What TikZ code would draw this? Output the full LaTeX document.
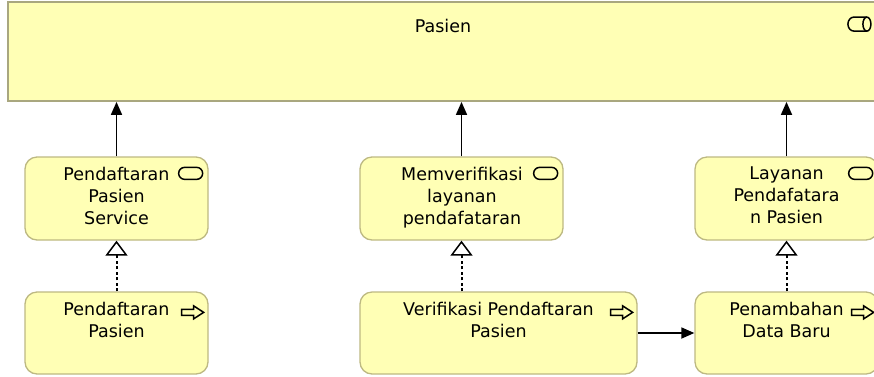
\documentclass[tikz,border=0pt]{standalone}
\usepackage{fontspec}
\setmainfont{DejaVu Sans}
\usetikzlibrary{arrows.meta}
\definecolor{bizfill}{HTML}{FFFFB5}
\definecolor{bizline}{HTML}{BDB982}
\definecolor{roleline}{HTML}{A9A77F}
\begin{document}
\begin{tikzpicture}[x=1pt,y=-1pt,
  elem/.style={draw=bizline, fill=bizfill, line width=1.3pt, rounded corners=12pt, inner sep=0pt},
  rolebox/.style={draw=roleline, fill=bizfill, line width=1.8pt, inner sep=0pt},
  txt/.style={anchor=north, align=center, inner sep=0pt, font=\fontsize{17.5}{22}\selectfont},
  serving/.style={line width=1.7pt, -{Triangle[length=13pt,width=11pt]}},
  realize/.style={line width=2pt, dash pattern=on 3pt off 2.5pt,
    -{Triangle[open,length=15pt,width=22pt,fill=white,line width=1.5pt,sep=0pt]}},
  trigger/.style={line width=1.7pt, -{Triangle[length=13pt,width=11pt]}},
  icon/.style={line width=1.5pt, draw=black},
  svcicon/.pic={\draw[icon, rounded corners=6pt] (-24,0) rectangle (0,12);},
  procicon/.pic={\draw[icon, line join=miter] (-22,-3) -- (-10,-3) -- (-10,-6.5) -- (0,0)
      -- (-10,6.5) -- (-10,3) -- (-22,3) -- cycle;},
  roleicon/.pic={\draw[icon] (-4,0) -- (-17,0) arc[start angle=270, end angle=90, x radius=6, y radius=7] -- (-4,14);
      \draw[icon] (-4,7) ellipse[x radius=4, y radius=7];},
]
\path[use as bounding box] (0,0) rectangle (874,376);

% business role across the top
\node[rolebox, minimum width=870pt, minimum height=99pt] (role) at (443,51.5) {};
\node[txt] (roleT) at (443,19) {Pasien};
\pic at ([xshift=-8pt,yshift=-16pt]role.north east) {roleicon};

% business services
\node[elem, minimum width=183pt, minimum height=83pt] (svcA) at (116.5,198.5) {};
\node[elem, minimum width=203pt, minimum height=83pt] (svcB) at (461.5,198.5) {};
\node[elem, minimum width=183pt, minimum height=83pt] (svcC) at (786.5,198.5) {};
\node[txt] (svcAT) at (116.5,167) {Pendaftaran\\Pasien\\Service};
\node[txt] (svcBT) at (462,167) {Memverifikasi\\layanan\\pendafataran};
\node[txt] (svcCT) at (786.5,167) {Layanan\\Pendafatara\\n Pasien};
\pic at ([xshift=-6pt,yshift=-11pt]svcA.north east) {svcicon};
\pic at ([xshift=-6pt,yshift=-11pt]svcB.north east) {svcicon};
\pic at ([xshift=-6pt,yshift=-11pt]svcC.north east) {svcicon};

% business processes
\node[elem, minimum width=183pt, minimum height=82pt] (procA) at (116.5,333) {};
\node[elem, minimum width=277pt, minimum height=82pt] (procB) at (498.5,333) {};
\node[elem, minimum width=183pt, minimum height=82pt] (procC) at (786.5,333) {};
\node[txt] (procAT) at (116.5,302) {Pendaftaran\\Pasien};
\node[txt] (procBT) at (498.5,302) {Verifikasi Pendaftaran\\Pasien};
\node[txt] (procCT) at (786.5,302) {Penambahan\\Data Baru};
\pic at ([xshift=-5pt,yshift=-21pt]procA.north east) {procicon};
\pic at ([xshift=-5pt,yshift=-21pt]procB.north east) {procicon};
\pic at ([xshift=-5pt,yshift=-21pt]procC.north east) {procicon};

% serving relations
\draw[serving] (svcA.north) -- (svcA.north |- role.south);
\draw[serving] (svcB.north) -- (svcB.north |- role.south);
\draw[serving] (svcC.north) -- (svcC.north |- role.south);

% realization relations
\draw[realize] (procA.north) -- (svcA.south);
\draw[realize] (procB.north -| svcB.south) -- (svcB.south);
\draw[realize] (procC.north) -- (svcC.south);

% triggering relation
\draw[trigger] (procB.east) -- (procC.west);
\end{tikzpicture}
\end{document}
